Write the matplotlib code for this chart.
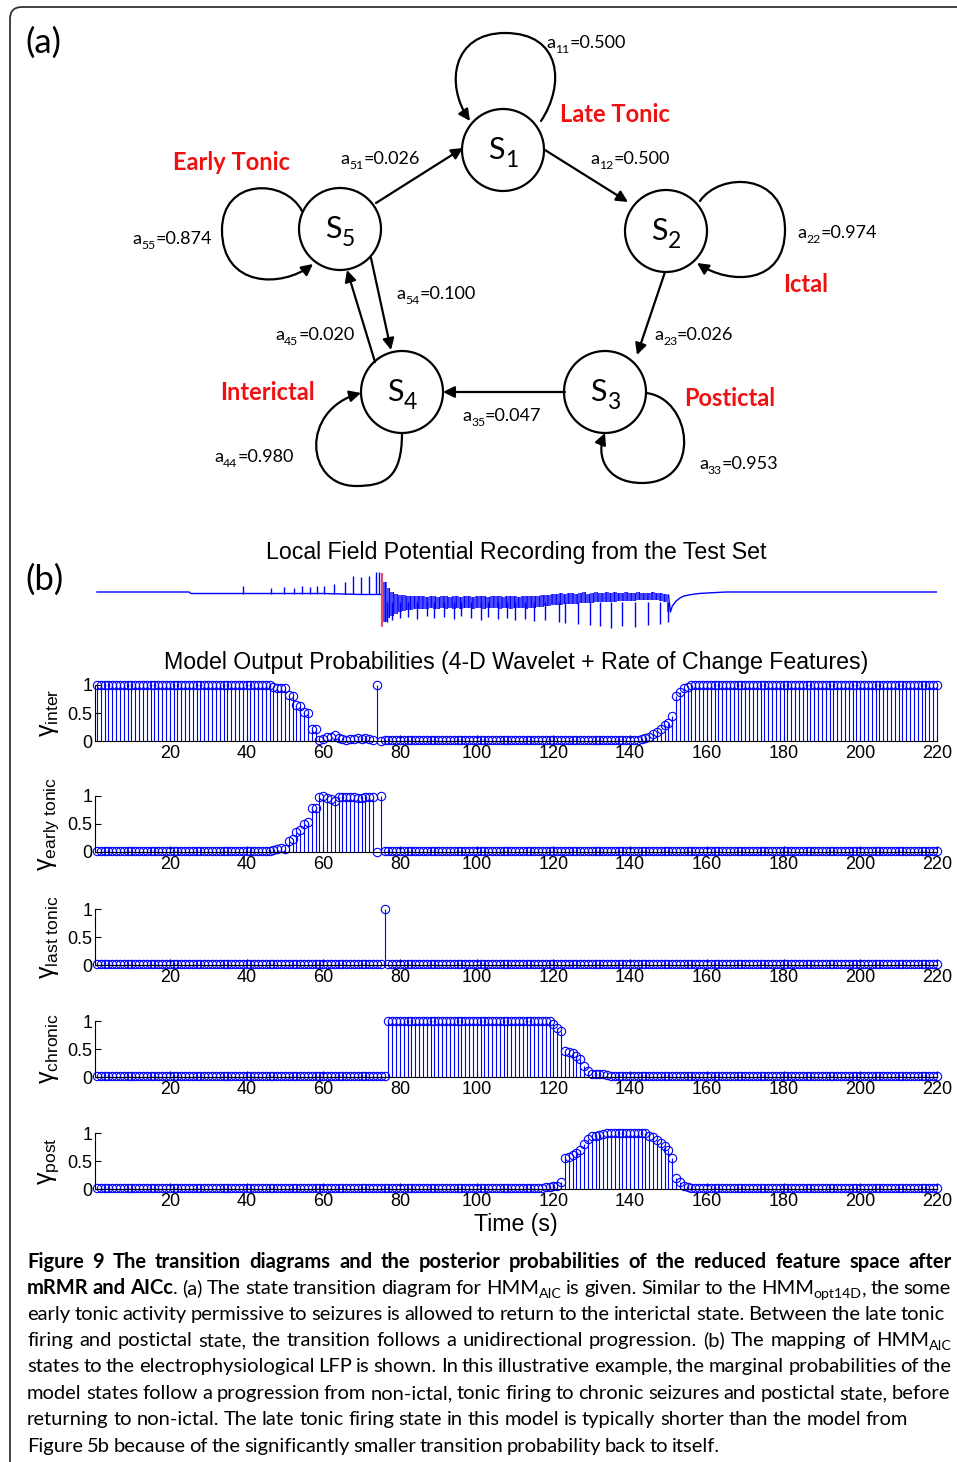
import re
import matplotlib
matplotlib.use("Agg")
import matplotlib.pyplot as plt
import numpy as np
from matplotlib.patches import Circle, FancyArrowPatch, FancyBboxPatch
from matplotlib.path import Path

W, H = 957, 1462

# ---------------- panel (b) data: posterior probabilities, one per second ----------------
time_s = np.arange(1, 221)

gamma_inter = ([1.0] * 46
               + [0.97, 0.95, 0.94, 0.94, 0.82, 0.80, 0.64, 0.63, 0.52, 0.50, 0.22, 0.21, 0.02, 0.04,
                  0.08, 0.07, 0.10, 0.05, 0.03, 0.02, 0.03, 0.04, 0.05, 0.03, 0.06, 0.04, 0.02, 1.0, 0.0]
               + [0.01] * 66
               + [0.02, 0.03, 0.05, 0.08, 0.12, 0.16, 0.22, 0.28, 0.33, 0.45, 0.80, 0.88, 0.94, 0.97]
               + [1.0] * 65)

gamma_early = ([0.01] * 45
               + [0.02, 0.04, 0.06, 0.07, 0.06, 0.20, 0.24, 0.36, 0.40, 0.50, 0.54, 0.78, 0.78, 0.99, 1.0,
                  0.96, 0.94, 0.91, 0.98, 0.98, 0.99, 0.99, 0.98, 0.97, 0.97, 0.98, 0.99, 0.98, 0.0, 1.0]
               + [0.01] * 145)

gamma_late = [0.01] * 75 + [1.0] + [0.01] * 144

gamma_chronic = ([0.01] * 76
                 + [1.0] * 43
                 + [0.95, 0.88, 0.82, 0.47, 0.45, 0.42, 0.38, 0.32, 0.20, 0.10, 0.06, 0.06, 0.05, 0.05, 0.03]
                 + [0.01] * 86)

gamma_post = ([0.01] * 116
              + [0.02, 0.03, 0.04, 0.05, 0.06, 0.12, 0.55, 0.57, 0.60, 0.64, 0.69, 0.80, 0.90, 0.94, 0.95,
                 0.96, 0.98]
              + [1.0] * 11
              + [0.95, 0.92, 0.88, 0.82, 0.77, 0.70, 0.55, 0.20, 0.12, 0.06, 0.03]
              + [0.01] * 65)

series = [gamma_inter, gamma_early, gamma_late, gamma_chronic, gamma_post]
ylabels = [r"$\mathrm{\gamma}_{\mathrm{inter}}$", r"$\mathrm{\gamma}_{\mathrm{early\ tonic}}$",
           r"$\mathrm{\gamma}_{\mathrm{last\ tonic}}$", r"$\mathrm{\gamma}_{\mathrm{chronic}}$",
           r"$\mathrm{\gamma}_{\mathrm{post}}$"]
xticks = [20, 40, 60, 80, 100, 120, 140, 160, 180, 200, 220]

# ---------------- LFP trace (arbitrary units, 0 = resting level, + is up) ----------------
lfp_pre_t = [1, 25, 25.5, 60, 70, 75]
lfp_pre_v = [0, 0, -1.5, -1.5, -2.5, -2.5]
lfp_pre_spk_t = [39.0, 46.3, 49.7, 52.3, 54.4, 56.5, 58.3, 60.2, 62.8, 65.6, 67.7, 69.8, 71.9, 73.7, 74.5]
lfp_pre_spk_v = [6, 4, 5, 4, 6, 5, 6, 6, 8, 10, 16, 15, 16, 20, 20]

lfp_sz_t = list(range(75, 151))
lfp_sz_top = [19, 10, 4, 0, -2, -3, -3, -4, -4, -4,
              -4, -4, -5, -4, -4, -5, -4, -4, -5, -4,
              -4, -5, -4, -4, -5, -4, -4, -4, -5, -4,
              -4, -4, -5, -4, -4, -4, -5, -4, -4, -4,
              -4, -4, -3, -3, -3, -2, -2, -1, -2, -1,
              -1, -2, -1, 0, -2, -1, 0, -1, -1, 0,
              -1, 0, -1, -1, 0, -1, -1, 0, -1, -1,
              -1, 0, -1, -1, -2, -3]
lfp_sz_bot = [-34, -30, -26, -24, -22, -20, -19, -18, -18, -17,
              -17, -17, -17, -16, -17, -17, -16, -17, -16, -17,
              -16, -17, -16, -16, -17, -16, -16, -17, -16, -16,
              -16, -17, -16, -16, -17, -16, -16, -16, -17, -16,
              -16, -15, -15, -14, -14, -13, -13, -13, -12, -12,
              -12, -12, -11, -11, -11, -11, -10, -10, -10, -10,
              -10, -10, -9, -9, -9, -9, -9, -8, -8, -8,
              -8, -8, -8, -9, -10, -20]
lfp_sz_spk_t = [76.5, 78, 80, 82, 84.5, 87, 89, 91.5, 94, 96, 98.5, 101, 103, 105.5, 108, 110, 112.5, 115,
                117.8, 121.4, 123, 126.4, 129.5, 132.1, 135, 137.9, 141.2, 144.6, 147.7, 149.8]
lfp_sz_spk_v = [-30, -28, -26, -25, -27, -24, -26, -25, -27, -24, -26, -28, -25, -27, -26, -28, -27, -29,
                -28, -30, -31, -32, -33, -34, -36, -34, -35, -33, -32, -30]
lfp_post_t = [150, 150.5, 151, 152, 153, 154, 156, 158, 161, 165, 220]
lfp_post_v = [-3, -20, -14, -9, -6, -4, -2.5, -1.5, -0.8, 0, 0]
onset_t = 75.3

# ---------------- panel (a) data: HMM states and transitions ----------------
state_ids = ["1", "2", "3", "4", "5"]
state_names = ["Late Tonic", "Ictal", "Postictal", "Interictal", "Early Tonic"]
trans_ids = ["11", "51", "12", "55", "22", "54", "45", "23", "35", "44", "33"]
trans_probs = ["0.500", "0.026", "0.500", "0.874", "0.974", "0.100", "0.020", "0.026", "0.047", "0.980", "0.953"]

caption = [
    "**Figure 9 The transition diagrams and the posterior probabilities of the reduced feature space after**",
    "**mRMR and AICc**. (a) The state transition diagram for HMM_{AIC} is given. Similar to the HMM_{opt14D}, the some",
    "early tonic activity permissive to seizures is allowed to return to the interictal state. Between the late tonic",
    "firing and postictal state, the transition follows a unidirectional progression. (b) The mapping of HMM_{AIC}",
    "states to the electrophysiological LFP is shown. In this illustrative example, the marginal probabilities of the",
    "model states follow a progression from non-ictal, tonic firing to chronic seizures and postictal state, before",
    "returning to non-ictal. The late tonic firing state in this model is typically shorter than the model from",
    "Figure 5b because of the significantly smaller transition probability back to itself.",
]

# ---------------- layout (pixels) ----------------
state_xy = [(503, 150), (666, 231), (605, 392), (402, 392), (340, 229)]
name_xy = [(560, 122), (783, 292), (684, 406), (220, 400), (173, 170)]
trans_xy = [(546, 48), (340, 164), (590, 164), (132, 244), (797, 238), (396, 299), (275, 340),
            (654, 340), (462, 421), (214, 462), (699, 469)]
caption_base = [1268, 1294, 1320, 1346, 1372, 1399, 1425, 1452]
caption_end = [952, 951, 945, 952, 952, 950, 908, 720]
zero_px = [741, 852, 965, 1077, 1189]

plt.rcParams["font.family"] = "Liberation Sans"
plt.rcParams["mathtext.fontset"] = "custom"
plt.rcParams["mathtext.rm"] = "Liberation Sans"
plt.rcParams["mathtext.it"] = "Liberation Sans:italic"
plt.rcParams["hatch.linewidth"] = 0.8

fig = plt.figure(figsize=(W / 100, H / 100), dpi=100)
bg = fig.add_axes([0, 0, 1, 1])
bg.set_xlim(0, W)
bg.set_ylim(H, 0)
bg.axis("off")
R = fig.canvas.get_renderer()


def rect(x0, y0, x1, y1):
    return [x0 / W, 1 - y1 / H, (x1 - x0) / W, (y1 - y0) / H]


def draw_runs(x, y, runs, size, family, color="k", sub=0.68, drop=0.22, draw=True):
    px = size * 100 / 72
    start = x
    made = []
    for txt, kind in runs:
        fs = size * sub if kind == "s" else size
        yy = y + drop * px if kind == "s" else y
        t = bg.text(x, yy, txt, fontsize=fs, family=family, color=color, va="baseline", ha="left",
                    fontweight="bold" if kind == "b" else "normal")
        x += t.get_window_extent(renderer=R).width
        made.append(t)
    if not draw:
        for t in made:
            t.remove()
    return x - start


def parse(line):
    words, cur, bold = [], [], False
    for tok in re.split(r"(\*\*|_\{[^}]*\}| )", line):
        if not tok:
            continue
        if tok == "**":
            bold = not bold
        elif tok == " ":
            if cur:
                words.append(cur)
                cur = []
        elif tok.startswith("_{"):
            cur.append((tok[2:-1], "s"))
        else:
            cur.append((tok, "b" if bold else "n"))
    if cur:
        words.append(cur)
    return words


# frame
bg.add_patch(FancyBboxPatch((10, 7), 1200, 1700, boxstyle="round,pad=0,rounding_size=12",
                            fill=False, lw=1.3, ec="#333333", clip_on=False))

# ---------------- panel (a) ----------------
bg.text(25, 53, "(a)", fontsize=25, family="Lato", va="baseline")
bg.text(25, 590, "(b)", fontsize=25, family="Lato", va="baseline")

for (cx, cy), sid in zip(state_xy, state_ids):
    bg.add_patch(Circle((cx, cy), 41, fill=False, lw=1.6, ec="k"))
    runs = [("S", "n"), (sid, "s")]
    w = draw_runs(0, 0, runs, 22, "Lato", sub=0.75, drop=0.25, draw=False)
    draw_runs(cx - w / 2, cy + 9, runs, 22, "Lato", sub=0.75, drop=0.25)

for (x, y), name in zip(name_xy, state_names):
    bg.text(x, y, name, fontsize=17, family="Lato", fontweight="bold", color="#ee1111", va="baseline")

for (x, y), tid, p in zip(trans_xy, trans_ids, trans_probs):
    draw_runs(x, y, [("a", "n"), (tid, "s"), ("=" + p, "n")], 13, "Lato", sub=0.68, drop=0.25)

arrow_kw = dict(arrowstyle="-|>", mutation_scale=17, lw=1.6, color="k", shrinkA=0, shrinkB=0)
straight = [((376, 203), (463, 148)), ((545, 150), (628, 202)), ((665, 272), (637, 355)),
            ((565, 392), (443, 392)), ((371, 258), (391, 350)), ((375, 362), (347, 270))]
for p0, p1 in straight:
    bg.add_patch(FancyArrowPatch(p0, p1, **arrow_kw))

C4 = Path.CURVE4
loops = [
    [(541, 121), (565, 85), (562, 33), (505, 33), (452, 33), (445, 85), (470, 121)],
    [(700, 201), (720, 172), (785, 172), (785, 230), (785, 285), (730, 285), (697, 263)],
    [(646, 393), (692, 398), (703, 483), (642, 483), (605, 483), (596, 455), (605, 433)],
    [(402, 433), (402, 478), (385, 486), (356, 486), (305, 486), (300, 410), (361, 393)],
    [(302, 211), (285, 178), (222, 178), (222, 230), (222, 288), (282, 288), (313, 264)],
]
for verts in loops:
    path = Path(verts, [Path.MOVETO] + [C4] * 6)
    bg.add_patch(FancyArrowPatch(path=path, **arrow_kw))

# ---------------- panel (b) ----------------
bg.text(516, 553, "Local Field Potential Recording from the Test Set", fontsize=16.7, ha="center", va="center")
bg.text(516, 662, "Model Output Probabilities (4-D Wavelet + Rate of Change Features)", fontsize=16.7,
        ha="center", va="center")
bg.text(516, 1224, "Time (s)", fontsize=16.7, ha="center", va="center")

ax_l = fig.add_axes(rect(95, 560, 937, 640))
ax_l.set_xlim(0.5, 220)
ax_l.set_ylim(-48, 32)
ax_l.axis("off")
ax_l.plot(lfp_pre_t, lfp_pre_v, color="b", lw=1.0)
ax_l.vlines(lfp_pre_spk_t, -2, lfp_pre_spk_v, color="b", lw=1.0)
ax_l.fill_between(lfp_sz_t, lfp_sz_bot, lfp_sz_top, step="mid", facecolor="#4d4dff", edgecolor="b",
                  hatch="||||", lw=0)
ax_l.vlines(lfp_sz_spk_t, -10, lfp_sz_spk_v, color="b", lw=1.0)
ax_l.plot(lfp_post_t, lfp_post_v, color="b", lw=1.0)
ax_l.vlines(onset_t, -35, 19, color="#ff5555", lw=1.6, alpha=0.85)

for i, (vals, lab) in enumerate(zip(series, ylabels)):
    z = zero_px[i]
    ax = fig.add_axes(rect(95, z - 56, 937, z))
    ml, sl, bl = ax.stem(time_s, vals, linefmt="b-", markerfmt="bo", basefmt=" ")
    plt.setp(ml, markerfacecolor="none", markersize=6, markeredgewidth=0.8, clip_on=False)
    plt.setp(sl, linewidth=0.8, clip_on=False)
    ax.set_xlim(0.5, 220)
    ax.set_ylim(0, 1)
    ax.set_xticks(xticks)
    ax.set_yticks([0, 0.5, 1])
    ax.set_yticklabels(["0", "0.5", "1"])
    ax.tick_params(direction="in", length=4, labelsize=13, pad=3)
    ax.tick_params(axis="y", pad=2)
    ax.spines["top"].set_visible(False)
    ax.spines["right"].set_visible(False)
    ax.patch.set_visible(False)
    ax.set_ylabel(lab, fontsize=18)
    ax.yaxis.set_label_coords(-0.04, 0.5)

# ---------------- caption ----------------
parsed = [parse(line) for line in caption]


def line_fit(words, x1, s):
    widths = [draw_runs(0, 0, w, s, "Lato", sub=0.7, drop=0.2, draw=False) for w in words]
    gap = (x1 - 27 - sum(widths)) / max(len(words) - 1, 1)
    return widths, gap


size = 15.0
while size > 9:
    if all(line_fit(w, x1, size)[1] >= 3.6 for w, x1 in zip(parsed[:-1], caption_end[:-1])):
        break
    size -= 0.25

for words, y, x1 in zip(parsed, caption_base, caption_end):
    widths, gap = line_fit(words, x1, size)
    x = 27
    for w, wd in zip(words, widths):
        draw_runs(x, y, w, size, "Lato", sub=0.7, drop=0.2)
        x += wd + gap

fig.savefig("out.png", dpi=100)
